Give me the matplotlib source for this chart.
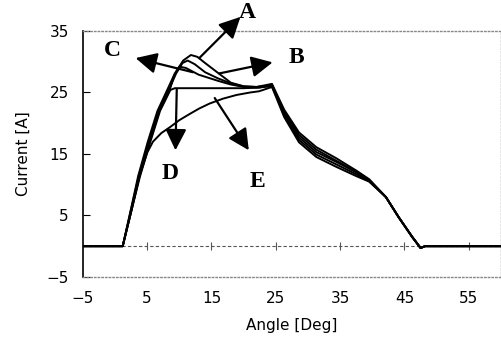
import numpy as np
import matplotlib.pyplot as plt

ang_a = [-5, 1.2, 2.5, 3.6, 5.1, 6.6, 8.2, 9.3, 10.6, 11.8, 12.8, 14, 16, 18, 20, 22, 24.4,
         26.3, 28.6, 31.3, 34.4, 37.5, 39.5, 42.1, 44.1, 46.2, 47.5, 48.2, 60]
cur_a = [0, 0, 6.1, 11.4, 17.0, 22.0, 25.6, 28.1, 30.2, 31.1, 30.8, 29.8, 28.2, 26.6, 26.0, 25.9, 26.4,
         22.2, 18.5, 16.1, 14.3, 12.3, 10.9, 8.0, 4.7, 1.5, -0.3, 0, 0]

ang_b = [-5, 1.2, 2.5, 3.7, 5.3, 6.8, 8.4, 9.5, 10.5, 11.3, 12.4, 14, 16, 18, 20, 22, 24.4,
         26.3, 28.6, 31.3, 34.4, 37.5, 39.5, 42.1, 44.1, 46.2, 47.5, 48.2, 60]
cur_b = [0, 0, 6.0, 11.4, 17.0, 22.0, 25.5, 28.1, 29.8, 30.2, 29.6, 28.3, 27.3, 26.5, 26.0, 25.9, 26.2,
         21.9, 18.1, 15.7, 13.9, 12.1, 10.8, 8.0, 4.7, 1.5, -0.3, 0, 0]

ang_c = [-5, 1.2, 2.6, 3.8, 5.4, 6.9, 8.5, 9.2, 10.0, 11, 13, 16, 18, 20, 22, 24.4,
         26.3, 28.6, 31.3, 34.4, 37.5, 39.5, 42.1, 44.1, 46.2, 47.5, 48.2, 60]
cur_c = [0, 0, 6.0, 11.4, 17.0, 22.0, 25.4, 27.8, 29.2, 29.0, 27.9, 26.9, 26.3, 25.9, 25.8, 26.0,
         21.6, 17.7, 15.3, 13.7, 12.0, 10.7, 8.0, 4.7, 1.5, -0.3, 0, 0]

ang_d = [-5, 1.2, 2.6, 3.9, 5.5, 7.0, 8.6, 9.3, 12, 16, 20, 22.5, 24.4,
         26.3, 28.6, 31.3, 34.4, 37.5, 39.5, 42.1, 44.1, 46.2, 47.5, 48.2, 60]
cur_d = [0, 0, 6.0, 11.4, 17.0, 22.0, 25.4, 25.7, 25.7, 25.7, 25.7, 25.8, 26.3,
         21.3, 17.3, 14.9, 13.3, 11.7, 10.6, 8.0, 4.7, 1.5, -0.3, 0, 0]

ang_e = [-5, 1.2, 2.6, 3.8, 5.0, 5.9, 7.2, 8.6, 10.0, 11.6, 13.1, 14.7, 16.8, 18.9, 21, 22.4, 24.4,
         26.3, 28.6, 31.3, 34.4, 37.5, 39.5, 42.1, 44.1, 46.2, 47.5, 48.2, 60]
cur_e = [0, 0, 6.0, 11.4, 15.2, 17.0, 18.4, 19.4, 20.5, 21.5, 22.4, 23.2, 24.0, 24.6, 25.0, 25.2, 25.9,
         21.0, 16.9, 14.5, 12.9, 11.4, 10.5, 8.0, 4.7, 1.5, -0.3, 0, 0]

curves = {"A": (ang_a, cur_a), "B": (ang_b, cur_b), "C": (ang_c, cur_c),
          "D": (ang_d, cur_d), "E": (ang_e, cur_e)}

# arrow (start, tip) and label position per curve
arrows = {"A": ((13.1, 30.6), (19.5, 37.3), (20.6, 38.0)),
          "B": ((16.2, 28.1), (24.5, 29.9), (28.2, 30.7)),
          "C": ((12.1, 28.3), (3.2, 30.6), (-0.4, 31.9)),
          "D": ((9.6, 25.5), (9.4, 15.6), (8.6, 11.8)),
          "E": ((15.5, 24.1), (20.8, 15.6), (22.1, 10.6))}

xticks = [-5, 5, 15, 25, 35, 45, 55]
yticks = [-5, 5, 15, 25, 35]

fig = plt.figure(figsize=(5.02, 3.41), dpi=100)
ax = fig.add_axes([0.165, 0.188, 0.833, 0.721])

ax.axhline(0, color='#555555', lw=0.8, ls=(0, (3, 2)), zorder=1)
ax.plot(xticks[1:], [0] * (len(xticks) - 1), ls='none', marker='|', ms=6,
        mew=0.8, color='#555555', zorder=1)

for key in curves:
    x, y = curves[key]
    ax.plot(x, y, color='black', lw=1.4, zorder=3, solid_joinstyle='round')

for key in arrows:
    start, tip, lab = arrows[key]
    ax.annotate('', xy=tip, xytext=start, annotation_clip=False,
                arrowprops=dict(arrowstyle='-|>', mutation_scale=32, lw=1.6,
                                color='black', shrinkA=0, shrinkB=0))
    ax.text(lab[0], lab[1], key, ha='center', va='center', fontsize=17,
            fontweight='bold', family='Liberation Serif', clip_on=False)

ax.set_xlim(-5, 60)
ax.set_ylim(-5, 35)
ax.set_xticks(xticks)
ax.set_yticks(yticks)
ax.tick_params(axis='x', length=0, labelsize=11, pad=10)
ax.tick_params(axis='y', direction='in', length=5, labelsize=11, pad=10)

ax.spines['left'].set_color('black')
ax.spines['left'].set_linewidth(1.2)
for s in ['top', 'right', 'bottom']:
    ax.spines[s].set_linestyle(':')
    ax.spines[s].set_color('#888888')
    ax.spines[s].set_linewidth(1.0)

ax.set_xlabel('Angle [Deg]', fontsize=11, labelpad=9)
ax.set_ylabel('Current [A]', fontsize=11, labelpad=11)

fig.savefig('out.png', dpi=100)
